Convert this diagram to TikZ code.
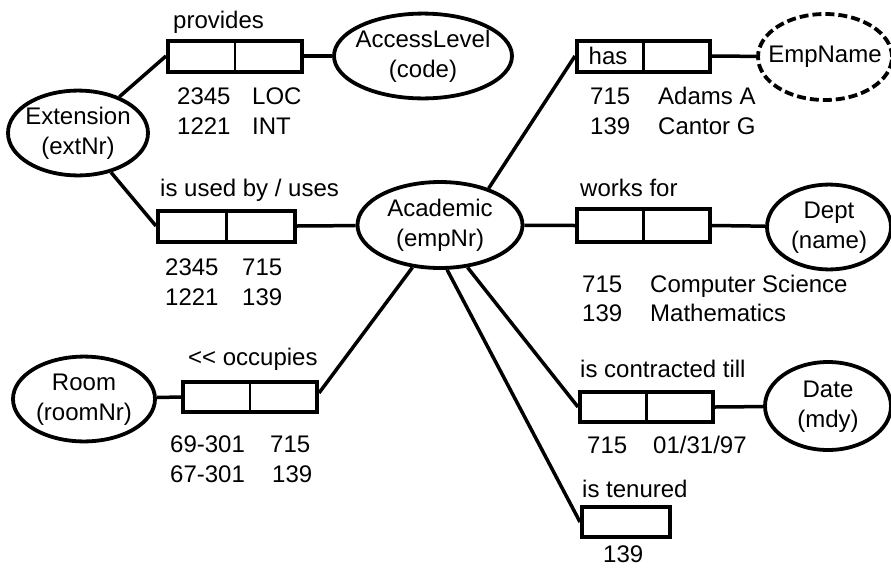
\documentclass[tikz,border=0pt]{standalone}
\usepackage{fontspec}
\setmainfont{Liberation Sans}
\usetikzlibrary{shapes.geometric}
\newcommand\twolines[2]{\makebox[0pt]{\begin{tabular}{@{}c@{}}#1\\#2\end{tabular}}}
\tikzset{
  ent/.style={ellipse, draw, line width=3.8pt, inner sep=0pt, font=\fontsize{24}{30}\selectfont},
  rbox/.style={rectangle, draw, line width=4pt, minimum width=133pt, minimum height=31pt, inner sep=0pt},
  conn/.style={line width=3.5pt},
  divl/.style={line width=2.4pt},
  txt/.style={anchor=base west, inner sep=0pt, font=\fontsize{24}{30}\selectfont},
}
\begin{document}
\begin{tikzpicture}[x=1pt,y=-1pt]
\useasboundingbox (0,0) rectangle (891,568);
% entity types
\node[ent, minimum width=140pt, minimum height=84pt] (ext) at (78,133) {\twolines{Extension}{(extNr)}};
\node[ent, minimum width=178pt, minimum height=84pt] (acl) at (423,56) {\twolines{AccessLevel}{(code)}};
\node[ent, minimum width=165pt, minimum height=86pt] (acad) at (440,225) {\twolines{Academic}{(empNr)}};
\node[ent, dashed, dash pattern=on 9pt off 4pt, minimum width=134pt, minimum height=86pt] (emp) at (825,57) {\makebox[0pt]{EmpName}};
\node[ent, minimum width=124pt, minimum height=80pt] (dept) at (829,227) {\twolines{Dept}{(name)}};
\node[ent, minimum width=126pt, minimum height=88pt] (date) at (828,406) {\twolines{Date}{(mdy)}};
\node[ent, minimum width=142pt, minimum height=80pt] (room) at (84,399) {\twolines{Room}{(roomNr)}};
% fact type boxes
\node[rbox, minimum width=134pt] (prov) at (235,56) {};
\node[rbox, minimum width=137pt] (used) at (226.5,226) {};
\node[rbox] (has) at (643.5,56) {};
\node[rbox, minimum height=33pt] (works) at (643.5,225.5) {};
\node[rbox, minimum height=30pt] (contr) at (646.5,407) {};
\node[rbox, minimum width=88pt, minimum height=30pt] (ten) at (626,522) {};
\node[rbox, minimum width=134pt, minimum height=30pt] (occ) at (250,397) {};
% dividers
\foreach \b in {prov,used,has,works,contr,occ} \draw[divl] (\b.north) -- (\b.south);
% connectors
\draw[conn] (ext) -- (prov.west);
\draw[conn] (prov.east) -- (acl);
\draw[conn] (ext) -- (used.west);
\draw[conn] (used.east) -- (acad);
\draw[conn] (acad.37) -- (has.west);
\draw[conn] (has.east) -- (emp);
\draw[conn] (acad) -- (works.west);
\draw[conn] (works.east) -- (dept);
\draw[conn] (acad.303) -- (contr.west);
\draw[conn] (contr.east) -- (date);
\draw[conn] (acad.279) -- (ten.west);
\draw[conn] (acad.237) -- ([yshift=4pt]occ.east);
\draw[conn] (occ.west) -- (room);
% labels
\node[txt] (lprov) at (173,28) {provides};
\node[txt] (lused) at (160,196) {is used by / uses};
\node[txt] (lworks) at (580,196) {works for};
\node[txt] (lcontr) at (580,377) {is contracted till};
\node[txt] (lten) at (582,497) {is tenured};
\node[txt] (locc) at (188,365) {{<}{<} occupies};
\node[font=\fontsize{24}{30}\selectfont, inner sep=0pt] (lhas) at ([xshift=33pt]has.west) {has};
% populations
\node[txt] (p1a) at (177,104) {2345};
\node[txt] (p1b) at (252,104) {LOC};
\node[txt] (p1c) at (177,134) {1221};
\node[txt] (p1d) at (252,134) {INT};
\node[txt] (p2a) at (165,275) {2345};
\node[txt] (p2b) at (242,275) {715};
\node[txt] (p2c) at (165,305) {1221};
\node[txt] (p2d) at (242,305) {139};
\node[txt] (p3a) at (590,104) {715};
\node[txt] (p3b) at (658,104) {Adams A};
\node[txt] (p3c) at (590,134) {139};
\node[txt] (p3d) at (658,134) {Cantor G};
\node[txt] (p4a) at (582,292) {715};
\node[txt] (p4b) at (650,292) {Computer Science};
\node[txt] (p4c) at (582,321) {139};
\node[txt] (p4d) at (650,321) {Mathematics};
\node[txt] (p5a) at (587,453) {715};
\node[txt] (p5b) at (653,453) {01/31/97};
\node[txt] (p6a) at (603,562) {139};
\node[txt] (p7a) at (170,452) {69-301};
\node[txt] (p7b) at (270,452) {715};
\node[txt] (p7c) at (170,482) {67-301};
\node[txt] (p7d) at (272,482) {139};
\end{tikzpicture}
\end{document}
